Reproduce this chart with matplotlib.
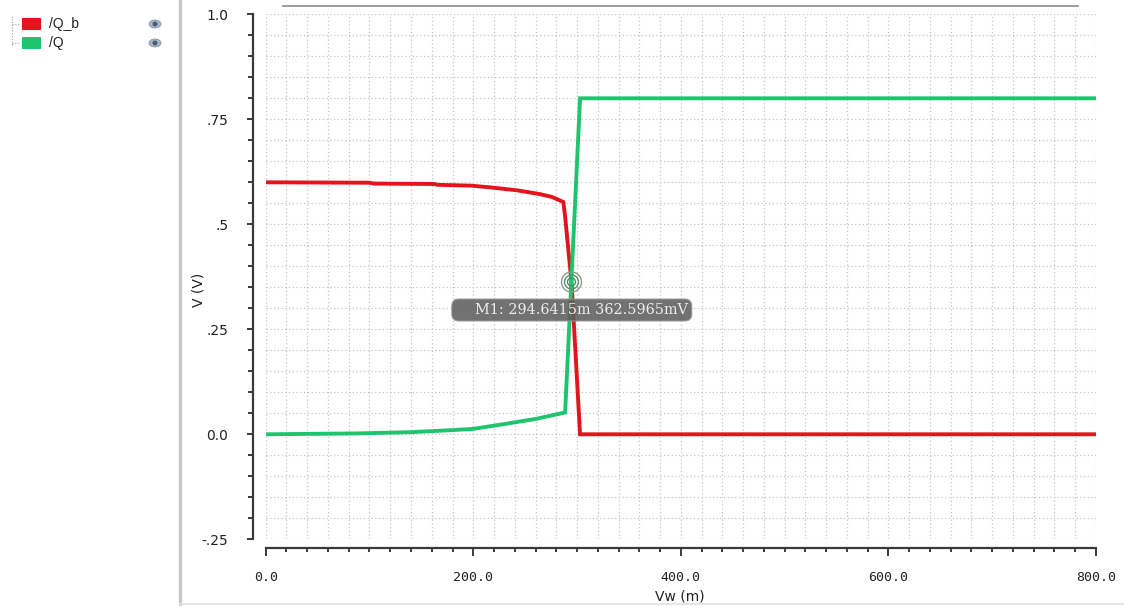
import matplotlib
matplotlib.use("Agg")
import matplotlib.pyplot as plt
from matplotlib.ticker import MultipleLocator, FixedLocator, FixedFormatter
from matplotlib.patches import FancyBboxPatch, Circle, Ellipse, Rectangle
from matplotlib.lines import Line2D
from matplotlib.transforms import ScaledTranslation

# Sweep of Vw (mV) and node voltages (V)
vw_qb = [0, 100, 104, 162, 166, 198, 216, 242, 264, 276, 286.8, 288.5, 294.6415, 302.9, 800]
v_qb = [0.600, 0.599, 0.597, 0.596, 0.594, 0.592, 0.588, 0.581, 0.572, 0.565, 0.553, 0.518, 0.3626, 0.0, 0.0]

vw_q = [0, 86, 139, 180, 200, 229, 261, 288.5, 302.9, 800]
v_q = [0.0, 0.002, 0.005, 0.010, 0.013, 0.024, 0.037, 0.052, 0.800, 0.800]

series_names = ["/Q_b", "/Q"]
series_colors = ["#e3141b", "#1fc46e"]

marker_x = 294.6415
marker_y = 0.3625965
marker_text = "M1: 294.6415m 362.5965mV"

y_ticks = [1.0, 0.75, 0.5, 0.25, 0.0, -0.25]
y_labels = ["1.0", ".75", ".5", ".25", "0.0", "-.25"]
x_ticks = [0, 200, 400, 600, 800]
x_labels = ["0.0", "200.0", "400.0", "600.0", "800.0"]

W, H = 1124, 606
fig = plt.figure(figsize=(W / 100, H / 100), dpi=100)
fig.patch.set_facecolor("white")

left, right, top, bottom = 265.7, 1096.0, 14.3, 539.3
ax = fig.add_axes([left / W, 1 - bottom / H, (right - left) / W, (bottom - top) / H])
ax.set_xlim(0, 800)
ax.set_ylim(-0.25, 1.0)

# dotted grid on every minor step
ax.xaxis.set_major_locator(FixedLocator(x_ticks))
ax.xaxis.set_major_formatter(FixedFormatter(x_labels))
ax.xaxis.set_minor_locator(MultipleLocator(20))
ax.yaxis.set_major_locator(FixedLocator(y_ticks))
ax.yaxis.set_major_formatter(FixedFormatter(y_labels))
ax.yaxis.set_minor_locator(MultipleLocator(0.05))
ax.grid(which="both", color="#c4c4c4", linestyle=(0, (1, 2)), linewidth=0.9)
ax.set_axisbelow(True)

for s in ("top", "right"):
    ax.spines[s].set_visible(False)
ax.spines["left"].set_position(("outward", 9.5))
ax.spines["bottom"].set_position(("outward", 6.3))
for s in ("left", "bottom"):
    ax.spines[s].set_color("#3a3a3a")
    ax.spines[s].set_linewidth(1.6)

ax.tick_params(axis="y", which="major", length=4.5, width=1.4, color="#3a3a3a",
               pad=13, labelsize=10, labelcolor="#222222")
ax.tick_params(axis="y", which="minor", length=3.8, width=1.4, color="#3a3a3a")
ax.tick_params(axis="x", which="major", length=5.5, width=1.4, color="#3a3a3a",
               pad=11, labelsize=9.5, labelcolor="#222222")
ax.tick_params(axis="x", which="minor", length=3.2, width=1.4, color="#3a3a3a")
for lab in ax.get_xticklabels():
    lab.set_family("DejaVu Sans Mono")

ax.set_ylabel("V (V)", fontsize=10, color="#222222")
ax.yaxis.set_label_coords((205 - left) / (right - left), (bottom - 290) / (bottom - top))
ax.set_xlabel("Vw (m)", fontsize=10, color="#222222")
ax.xaxis.set_label_coords((680 - left) / (right - left), -(597 - bottom) / (bottom - top))
ax.xaxis.label.set_va("center")

ax.plot(vw_qb, v_qb, color=series_colors[0], linewidth=2.8, solid_joinstyle="miter", zorder=3)
ax.plot(vw_q, v_q, color=series_colors[1], linewidth=2.8, solid_joinstyle="miter", zorder=3)

# marker rings and readout, sized in inches around the marker point
mtrans = fig.dpi_scale_trans + ScaledTranslation(marker_x, marker_y, ax.transData)
for r, c in [(0.10, "#8a9a90"), (0.07, "#5f8f72"), (0.04, "#4f8a66")]:
    ax.add_patch(Circle((0, 0), r, transform=mtrans, fill=False, edgecolor=c,
                        linewidth=1.0, zorder=5, clip_on=False))
ax.add_patch(FancyBboxPatch((-1.197, -0.39), 2.40, 0.22,
                            boxstyle="round,pad=0,rounding_size=0.07",
                            transform=mtrans, facecolor="#5e5e5e", edgecolor="#9a9a9a",
                            linewidth=0.8, alpha=0.88, zorder=6, clip_on=False))
ax.text(-0.967, -0.283, marker_text, transform=mtrans, ha="left", va="center",
        family="DejaVu Serif", fontsize=10.4, color="#eeeeee", zorder=7)

# strip along the top of the plot
fig.add_artist(Line2D([283 / W, 1078 / W], [1 - 6 / H, 1 - 6 / H],
                      color="#8c8c8c", linewidth=1.2))

# legend panel on the left
fig.add_artist(Line2D([180 / W, 180 / W], [0, 1], color="#c8c8c8", linewidth=2.5))
fig.add_artist(Line2D([180 / W, 1], [1 - 604 / H, 1 - 604 / H], color="#e2e2e2", linewidth=1.2))
fig.add_artist(Line2D([12 / W, 12 / W], [1 - 16 / H, 1 - 45 / H],
                      color="#a0a0a0", linewidth=0.8, linestyle=(0, (1, 1.5))))
legend_rows = [24, 43]
for yc, name, col in zip(legend_rows, series_names, series_colors):
    fig.add_artist(Line2D([12 / W, 20 / W], [1 - yc / H, 1 - yc / H],
                          color="#a0a0a0", linewidth=0.8, linestyle=(0, (1, 1.5))))
    fig.add_artist(Rectangle((22 / W, 1 - (yc + 5.5) / H), 19 / W, 11 / H,
                             transform=fig.transFigure, facecolor=col, edgecolor="none"))
    fig.text(49 / W, 1 - yc / H, name, fontsize=10, family="Liberation Sans",
             color="#222222", va="center", ha="left")
    fig.add_artist(Ellipse((155 / W, 1 - yc / H), 12 / W, 8 / H, transform=fig.transFigure,
                           facecolor="#a8b8c8", edgecolor="#7a8a9a", linewidth=0.5))
    fig.add_artist(Ellipse((155 / W, 1 - yc / H), 5 / W, 5 / H, transform=fig.transFigure,
                           facecolor="#4d5d72", edgecolor="none"))

fig.savefig("out.png", dpi=100, facecolor="white")
